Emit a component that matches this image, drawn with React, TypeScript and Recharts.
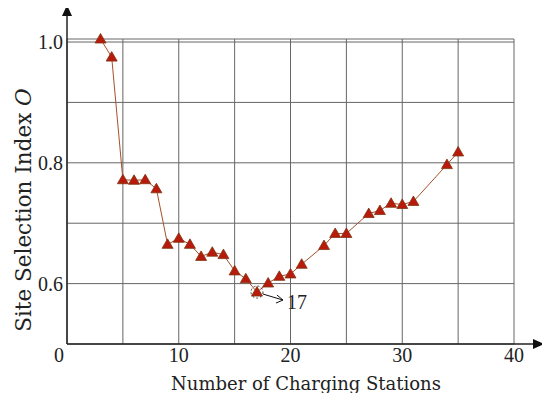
import * as React from "react";
import {
  ComposedChart,
  Line,
  XAxis,
  YAxis,
  CartesianGrid,
  ReferenceDot,
} from "recharts";

const stations = [3, 4, 5, 6, 7, 8, 9, 10, 11, 12, 13, 14, 15, 16, 17, 18, 19, 20, 21, 23, 24, 25, 27, 28, 29, 30, 31, 34, 35];
const siteIndex = [
  1.005, 0.975, 0.772, 0.771, 0.772, 0.757, 0.665, 0.675, 0.665, 0.645, 0.652, 0.648, 0.621, 0.608, 0.586,
  0.601, 0.612, 0.616, 0.632, 0.663, 0.683, 0.683, 0.716, 0.721, 0.733, 0.731, 0.736, 0.797, 0.818,
];
const xTicks = [0, 5, 10, 15, 20, 25, 30, 35, 40];
const yTicks = [0.6, 0.7, 0.8, 0.9, 1.0];
const xLabelTicks = [0, 10, 20, 30, 40];
const yLabelTicks = [0.6, 0.8, 1.0];
const optimum = 17;

const data = stations.map((n, i) => ({ n, o: siteIndex[i] }));
const optimumValue = siteIndex[stations.indexOf(optimum)];

const W = 550;
const H = 401;
const M = { top: 39, right: 36, left: 0, bottom: 0 };
const Y_W = 67;
const X_H = 57;
const plotLeft = M.left + Y_W;
const plotRight = W - M.right;
const plotBottom = H - X_H;
const serif = "Liberation Serif, Times New Roman, serif";
const wideSerif = "DejaVu Serif, serif";

const Triangle = (props: any) => {
  const { cx, cy } = props;
  if (cx == null || cy == null) return null;
  return (
    <path
      d={`M${cx},${cy - 5.5} L${cx + 5.5},${cy + 4} L${cx - 5.5},${cy + 4} Z`}
      fill="#b81a0c"
      stroke="#7e3510"
      strokeWidth={0.8}
    />
  );
};

const XTick = (props: any) => {
  const { x, y, payload } = props;
  if (!xLabelTicks.includes(payload.value)) return null;
  const dx = payload.value === 0 ? -8 : 0;
  return (
    <text x={x + dx} y={y + 10} textAnchor="middle" fontFamily={serif} fontSize={20} fill="#222">
      {payload.value}
    </text>
  );
};

const YTick = (props: any) => {
  const { x, y, payload } = props;
  if (!yLabelTicks.some((t) => Math.abs(t - payload.value) < 1e-6)) return null;
  return (
    <text x={x + 4} y={y + 7} textAnchor="end" fontFamily={serif} fontSize={20} fill="#222">
      {payload.value.toFixed(1)}
    </text>
  );
};

const OptimumNote = (props: any) => {
  const vb = props.viewBox || {};
  const cx = vb.x + (vb.width || 0) / 2;
  const cy = vb.y + (vb.height || 0) / 2;
  const ex = cx + 26;
  const ey = cy + 8;
  return (
    <g>
      <line x1={cx + 6} y1={cy + 2} x2={ex} y2={ey} stroke="#111" strokeWidth={1} />
      <path d={`M${ex - 6},${ey - 5} L${ex},${ey} L${ex - 7},${ey + 3}`} fill="none" stroke="#111" strokeWidth={1} />
      <text x={cx + 30} y={cy + 17} fontFamily={serif} fontSize={20} fill="#222">
        {optimum}
      </text>
    </g>
  );
};

export default function App() {
  return (
    <div style={{ position: "relative", width: W, height: H, margin: -8, background: "#fff" }}>
      <ComposedChart width={W} height={H} data={data} margin={M}>
        <CartesianGrid stroke="#666" strokeWidth={1} horizontal vertical />
        <XAxis
          dataKey="n"
          type="number"
          domain={[0, 40]}
          ticks={xTicks}
          interval={0}
          height={X_H}
          tickLine={false}
          axisLine={{ stroke: "#222", strokeWidth: 1.5 }}
          tick={<XTick />}
        />
        <YAxis
          type="number"
          domain={[0.5, 1.0]}
          ticks={yTicks}
          interval={0}
          width={Y_W}
          tickLine={false}
          axisLine={{ stroke: "#222", strokeWidth: 1.5 }}
          tick={<YTick />}
        />
        <Line
          dataKey="o"
          type="linear"
          stroke="#a4512a"
          strokeWidth={1}
          dot={<Triangle />}
          activeDot={false}
          isAnimationActive={false}
        />
        <ReferenceDot
          x={optimum}
          y={optimumValue}
          r={6}
          fill="none"
          stroke="#111"
          strokeWidth={0.8}
          strokeDasharray="2 2"
          label={<OptimumNote />}
        />
      </ComposedChart>
      <svg width={W} height={H} style={{ position: "absolute", left: 0, top: 0, pointerEvents: "none" }}>
        <line x1={plotLeft} y1={M.top} x2={plotLeft} y2={14} stroke="#222" strokeWidth={1.5} />
        <path d={`M${plotLeft - 5},${16} L${plotLeft},${5} L${plotLeft + 5},${16} Z`} fill="#111" />
        <line x1={plotRight} y1={plotBottom} x2={535} y2={plotBottom} stroke="#222" strokeWidth={1.5} />
        <path d={`M${533},${plotBottom - 5} L${544},${plotBottom} L${533},${plotBottom + 5} Z`} fill="#111" />
        <text x={306} y={390} textAnchor="middle" fontFamily={wideSerif} fontSize={18} fill="#222">
          Number of Charging Stations
        </text>
        <text
          transform="translate(31,210) rotate(-90)"
          textAnchor="middle"
          fontFamily={wideSerif}
          fontSize={21.5}
          fill="#222"
        >
          Site Selection Index <tspan fontStyle="italic">O</tspan>
        </text>
      </svg>
    </div>
  );
}
